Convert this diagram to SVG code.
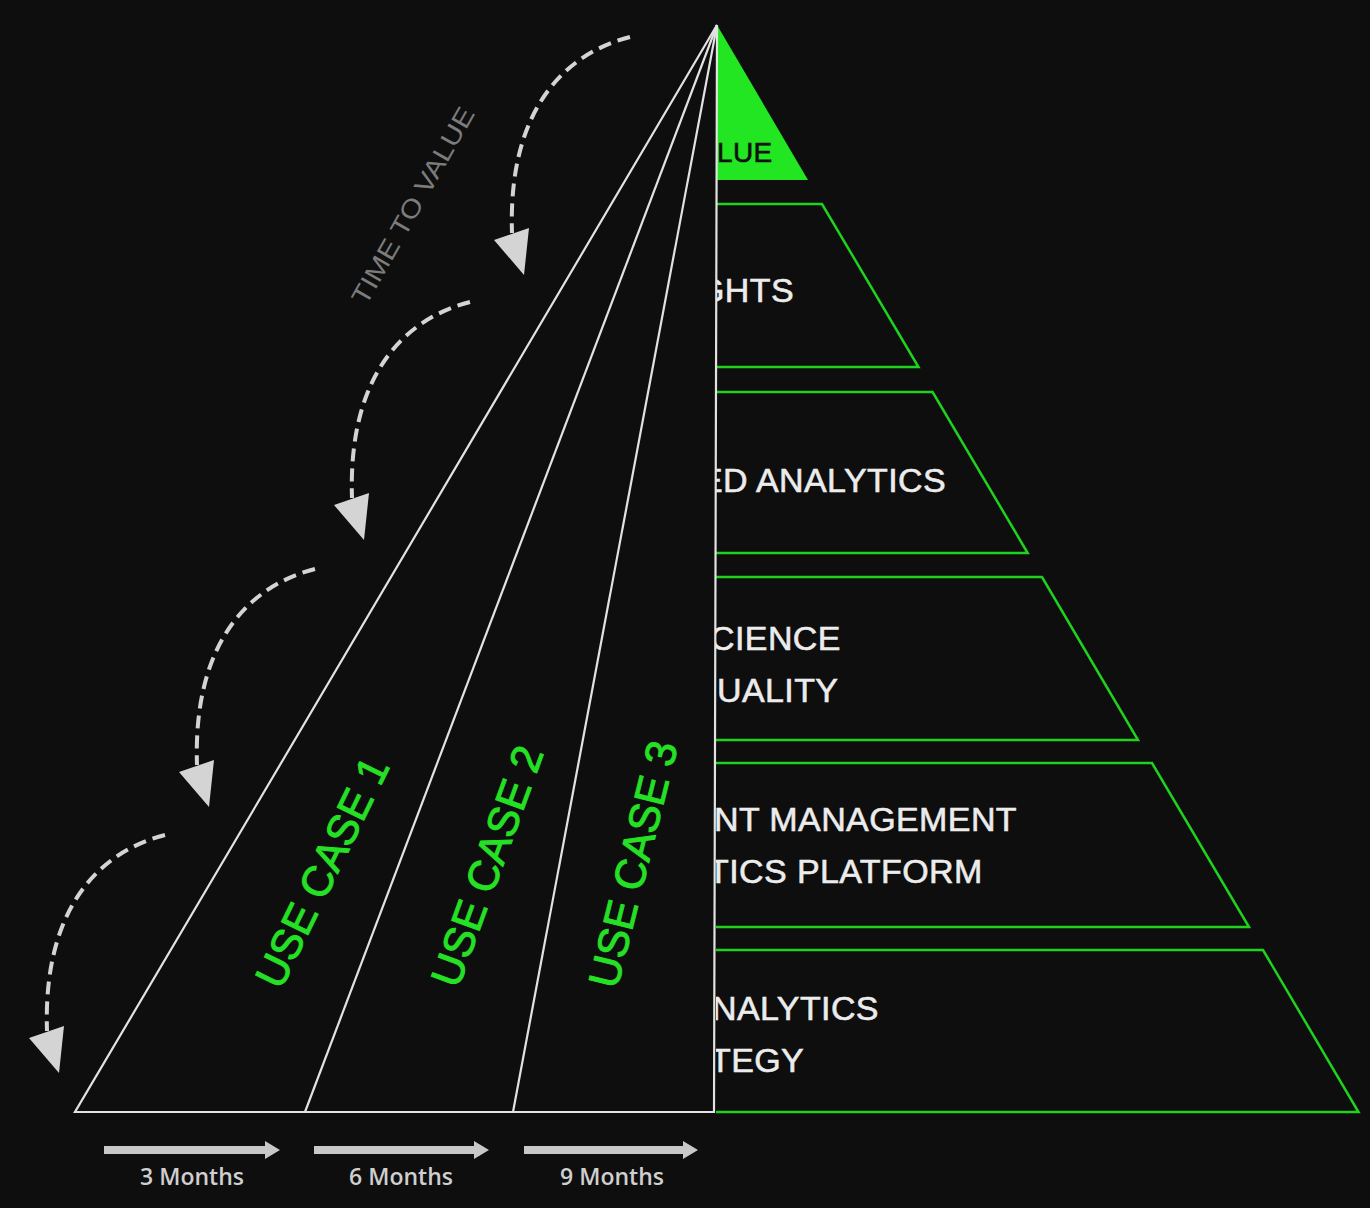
<svg xmlns="http://www.w3.org/2000/svg" xmlns:xlink="http://www.w3.org/1999/xlink" width="1370" height="1208" viewBox="0 0 1370 1208">
  <style>
    .tier { fill: none; stroke: #1ed21e; stroke-width: 2.5; stroke-linejoin: miter; }
    .wline { fill: none; stroke: #e2e2e2; stroke-width: 2.2; stroke-linejoin: miter; }
    .tiertext { font-family: "Liberation Sans", Arial, sans-serif; font-size: 34px; fill: #ececec; stroke: #ececec; stroke-width: 0.6px; letter-spacing: 0.4px; }
    .uc { font-family: "Liberation Sans", Arial, sans-serif; font-size: 43px; fill: #25e025; stroke: #25e025; stroke-width: 1px; }
    .dash { fill: none; stroke: #d4d4d4; stroke-width: 4; stroke-dasharray: 13 7; }
    .head { fill: #d4d4d4; }
    .tarrow { fill: #c8c8c8; }
    .month { font-family: "Open Sans", "Liberation Sans", sans-serif; font-weight: 600; font-size: 23px; fill: #cfcfcf; text-anchor: middle; }
  </style>
  <defs>
    <clipPath id="rightHalf">
      <rect x="716" y="0" width="654" height="1208"/>
    </clipPath>
    <g id="curveArrow">
      <path class="dash" d="M0,0 C-70,18 -122,78 -118,196"/>
      <polygon class="head" points="-136,203 -101,191 -106,238"/>
    </g>
  </defs>

  <rect x="0" y="0" width="1370" height="1208" fill="#0e0e0e"/>

  <!-- right pyramid tiers -->
  <g id="tier-value">
    <polygon points="717,25 808,180 716,180" fill="#22e622"/>
    <text class="tiertext" clip-path="url(#rightHalf)" x="717" y="162" style="font-size:28px;fill:#111111;stroke:#111111">LUE</text>
  </g>
  <g id="tier-insights">
    <polyline class="tier" points="716,204 822,204 918.5,367 716,367"/>
    <text class="tiertext" clip-path="url(#rightHalf)" x="698" y="302">GHTS</text>
  </g>
  <g id="tier-advanced-analytics">
    <polyline class="tier" points="716,392 932.6,392 1027.7,553 716,553"/>
    <text class="tiertext" clip-path="url(#rightHalf)" x="700" y="492">ED ANALYTICS</text>
  </g>
  <g id="tier-science-quality">
    <polyline class="tier" points="716,577 1042,577 1138,740 716,740"/>
    <text class="tiertext" clip-path="url(#rightHalf)" x="710" y="650">CIENCE</text>
    <text class="tiertext" clip-path="url(#rightHalf)" x="717" y="702">UALITY</text>
  </g>
  <g id="tier-management-platform">
    <polyline class="tier" points="716,763 1152,763 1249,927 716,927"/>
    <text class="tiertext" clip-path="url(#rightHalf)" x="714" y="831">NT MANAGEMENT</text>
    <text class="tiertext" clip-path="url(#rightHalf)" x="708" y="883">TICS PLATFORM</text>
  </g>
  <g id="tier-strategy">
    <polyline class="tier" points="716,950 1263,950 1358.5,1112 716,1112"/>
    <text class="tiertext" clip-path="url(#rightHalf)" x="712" y="1020">NALYTICS</text>
    <text class="tiertext" clip-path="url(#rightHalf)" x="710" y="1072">TEGY</text>
  </g>

  <!-- left half: use case wedges -->
  <g id="left-pyramid">
    <polyline class="wline" points="717,25 714,1112 75,1112 717,25"/>
    <line class="wline" x1="717" y1="25" x2="305" y2="1112"/>
    <line class="wline" x1="717" y1="25" x2="513" y2="1112"/>
  </g>
  <g id="use-case-1">
    <text class="uc" transform="translate(322,872) rotate(-64)" x="0" y="15" text-anchor="middle" textLength="250" lengthAdjust="spacingAndGlyphs">USE CASE 1</text>
  </g>
  <g id="use-case-2">
    <text class="uc" transform="translate(487,866) rotate(-70)" x="0" y="15" text-anchor="middle" textLength="252" lengthAdjust="spacingAndGlyphs">USE CASE 2</text>
  </g>
  <g id="use-case-3">
    <text class="uc" transform="translate(633,864) rotate(-76)" x="0" y="15" text-anchor="middle" textLength="252" lengthAdjust="spacingAndGlyphs">USE CASE 3</text>
  </g>

  <g id="time-to-value-label">
    <text transform="translate(412,205) rotate(-60.5)" x="0" y="10" text-anchor="middle" font-family="'Liberation Sans', Arial, sans-serif" font-size="26" fill="#7c7c7c" textLength="222" lengthAdjust="spacingAndGlyphs">TIME TO VALUE</text>
  </g>

  <!-- connectors -->
  <g id="connectors">
    <use xlink:href="#curveArrow" href="#curveArrow" transform="translate(630,37)"/>
    <use xlink:href="#curveArrow" href="#curveArrow" transform="translate(470,302)"/>
    <use xlink:href="#curveArrow" href="#curveArrow" transform="translate(315,569)"/>
    <use xlink:href="#curveArrow" href="#curveArrow" transform="translate(165,835)"/>
    <polygon class="tarrow" points="104,1146 265,1146 265,1141 280,1150 265,1159 265,1154 104,1154"/>
    <polygon class="tarrow" points="314,1146 474,1146 474,1141 489,1150 474,1159 474,1154 314,1154"/>
    <polygon class="tarrow" points="524,1146 683,1146 683,1141 698,1150 683,1159 683,1154 524,1154"/>
  </g>

  <g id="timeline-labels">
    <text class="month" x="192" y="1185">3 Months</text>
    <text class="month" x="401" y="1185">6 Months</text>
    <text class="month" x="612" y="1185">9 Months</text>
  </g>
</svg>
